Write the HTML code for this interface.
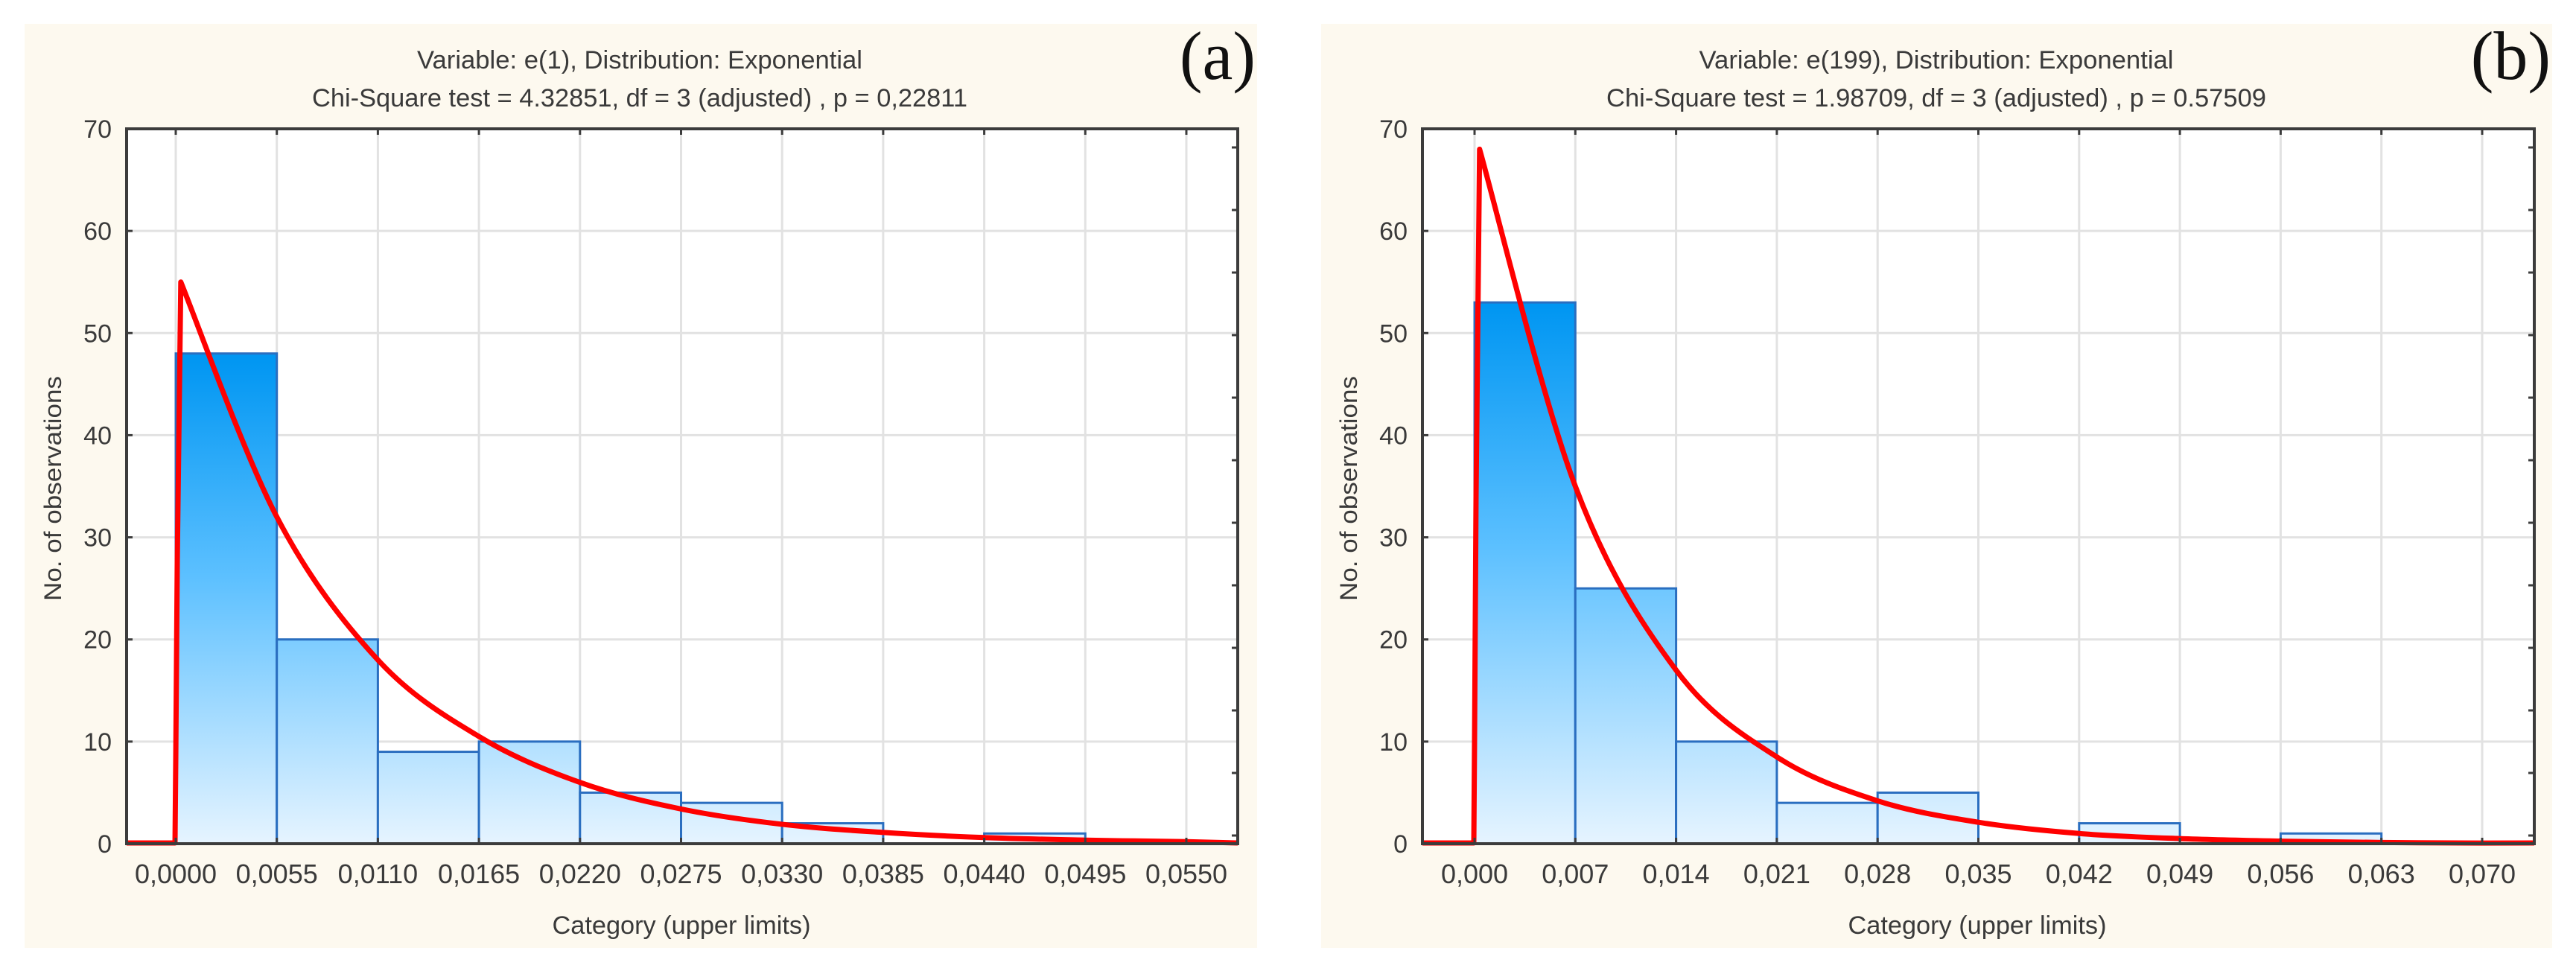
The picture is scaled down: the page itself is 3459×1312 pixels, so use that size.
<!DOCTYPE html>
<html><head><meta charset="utf-8"><style>
html,body{margin:0;padding:0;background:#fff;}
svg{display:block;}
text{font-family:"Liberation Sans Narrow","Liberation Sans",sans-serif;fill:#3a3a3a;}
</style></head><body>
<svg id="fig" width="3459" height="1312" viewBox="0 0 3459 1312">
<defs>
<linearGradient id="barGradA" gradientUnits="userSpaceOnUse" x1="0" y1="480" x2="0" y2="1133">
<stop offset="0" stop-color="#0096f2"/><stop offset="0.45" stop-color="#5cc0ff"/><stop offset="1" stop-color="#e6f4ff"/></linearGradient>
<linearGradient id="barGradB" gradientUnits="userSpaceOnUse" x1="0" y1="410" x2="0" y2="1133">
<stop offset="0" stop-color="#0096f2"/><stop offset="0.45" stop-color="#5cc0ff"/><stop offset="1" stop-color="#e6f4ff"/></linearGradient>
<clipPath id="clipA"><rect x="170" y="160" width="1492" height="976"/></clipPath>
<clipPath id="clipB"><rect x="1910" y="160" width="1493" height="976"/></clipPath>
</defs>
</svg>
<script>
// ---- Panel (a) data ----
const ticksA = ["0,0000","0,0055","0,0110","0,0165","0,0220","0,0275","0,0330","0,0385","0,0440","0,0495","0,0550"];
const countsA = [48,20,9,10,5,4,2,0,1];
const curveA = [55,32,18,10.5,6,3.4,1.9,1.1,0.6,0.35,0.2];
const binWidthA = 0.0055;
// ---- Panel (b) data ----
const ticksB = ["0,000","0,007","0,014","0,021","0,028","0,035","0,042","0,049","0,056","0,063","0,070"];
const countsB = [53,25,10,4,5,0,2,0,1];
const curveB = [68,35,17,8.5,4.2,2.1,1.0,0.5,0.25,0.12,0.06];
const binWidthB = 0.007;
const yTicks = [0,10,20,30,40,50,60,70];

const NS="http://www.w3.org/2000/svg";
const svg=document.getElementById('fig');
function mk(tag,attrs,parent){const e=document.createElementNS(NS,tag);for(const k in attrs)e.setAttribute(k,attrs[k]);(parent||svg).appendChild(e);return e;}

function panel(cfg){
  const g=mk('g',{});
  
  
  const bg=mk('rect',{x:cfg.px,y:32,width:cfg.pw,height:1241,fill:'#fdf9ef'},g);
  
  
  const L=cfg.left,R=cfg.right,T=173,B=1133;
  const plot=mk('rect',{x:L,y:T,width:R-L,height:B-T,fill:'#ffffff'},g);
  
  
  const yS=v=>B-(v/70)*(B-T);
  const xS=v=>cfg.x0+(v/cfg.bw)*cfg.step;
  yTicks.forEach(t=>{
    const l=mk('line',{x1:L,x2:R,y1:yS(t),y2:yS(t),stroke:'#e2e2e2','stroke-width':3},g);
    
    
  });
  cfg.ticks.forEach((t,i)=>{
    const x=xS(i*cfg.bw);
    const l=mk('line',{x1:x,x2:x,y1:T,y2:B,stroke:'#e2e2e2','stroke-width':3},g);
    
    
  });
  cfg.counts.forEach((c,i)=>{
    if(c<=0)return;
    const x1=xS(i*cfg.bw),x2=xS((i+1)*cfg.bw);
    const r=mk('rect',{x:x1,y:yS(c),width:x2-x1,height:B-yS(c),fill:cfg.grad,stroke:'#2a6ec0','stroke-width':3},g);
    
    
  });
  const pts=[[L,B-1],[xS(0)-1,B-1],[xS(0),yS(cfg.curve[0]*0.15)],[xS(0)+2,yS(cfg.curve[0]*0.5)]];
  const cp=cfg.curve.map((v,i)=>[xS(i*cfg.bw),yS(v)]);
  cp[0][0]=xS(cfg.bw*0.05);
  let d='M'+pts.map(p=>p.join(',')).join(' L')+' L'+cp[0].join(',');
  for(let i=0;i<cp.length-1;i++){
    const p0=cp[Math.max(0,i-1)],p1=cp[i],p2=cp[i+1],p3=cp[Math.min(cp.length-1,i+2)];
    const c1=[p1[0]+(p2[0]-p0[0])/6,p1[1]+(p2[1]-p0[1])/6];
    const c2=[p2[0]-(p3[0]-p1[0])/6,p2[1]-(p3[1]-p1[1])/6];
    d+=' C'+c1.join(',')+' '+c2.join(',')+' '+p2.join(',');
  }
  d+=' L'+R+','+(B-1);
  const path=mk('path',{d:d,fill:'none',stroke:'#ff0000','stroke-width':7,'stroke-linejoin':'round','clip-path':cfg.clip},g);
  
  
  const fr=mk('rect',{x:L,y:T,width:R-L,height:B-T,fill:'none',stroke:'#3c3c3c','stroke-width':4},g);
  
  
  yTicks.forEach(t=>{
    mk('line',{x1:L,x2:L+8,y1:yS(t),y2:yS(t),stroke:'#3c3c3c','stroke-width':3},g);
    const tx=mk('text',{x:cfg.ylabX,y:yS(t)+12,'font-size':34,'text-anchor':'end'},g);
    tx.textContent=t;
    
    
  });
  for(let y=T+25;y<B;y+=84){mk('line',{x1:R-8,x2:R,y1:y,y2:y,stroke:'#3c3c3c','stroke-width':3},g);}
  cfg.ticks.forEach((t,i)=>{
    const x=xS(i*cfg.bw);
    mk('line',{x1:x,x2:x,y1:T,y2:T+8,stroke:'#3c3c3c','stroke-width':3},g);
    mk('line',{x1:x,x2:x,y1:B-8,y2:B,stroke:'#3c3c3c','stroke-width':3},g);
    const tx=mk('text',{x:x,y:1186,'font-size':36,'text-anchor':'middle'},g);
    tx.textContent=t;
    
    
  });
  const t1=mk('text',{x:cfg.tcx,y:92,'font-size':34,'text-anchor':'middle',textLength:cfg.t1w,lengthAdjust:'spacingAndGlyphs'},g);
  t1.textContent=cfg.title1;
  
  
  const t2=mk('text',{x:cfg.tcx,y:143,'font-size':34,'text-anchor':'middle',textLength:cfg.t2w,lengthAdjust:'spacingAndGlyphs'},g);
  t2.textContent=cfg.title2;
  
  
  const xt=mk('text',{x:cfg.xtx,y:1254,'font-size':34,'text-anchor':'middle',textLength:347,lengthAdjust:'spacingAndGlyphs'},g);
  xt.textContent='Category (upper limits)';
  
  
  const yt=mk('text',{x:0,y:0,'font-size':32,'text-anchor':'middle',textLength:302,lengthAdjust:'spacingAndGlyphs',transform:`translate(${cfg.ytx},656) rotate(-90)`},g);
  yt.textContent='No. of observations';
  
  
  const lab=mk('text',{x:cfg.labX,y:106,'font-size':92,'text-anchor':'end',style:'font-family:"Liberation Serif",serif;fill:#111'},g);
  lab.textContent=cfg.label;
  
  
}

panel({id:'panel-a',px:33,pw:1655,left:170,right:1662,x0:236,step:135.7,bw:binWidthA,
  ticks:ticksA,counts:countsA,curve:curveA,grad:'url(#barGradA)',ylabX:150,clip:'url(#clipA)',
  tcx:859,t1w:598,t2w:880,xtx:915,ytx:82,labX:1686,label:'(a)',
  title1:'Variable: e(1), Distribution: Exponential',
  title2:'Chi-Square test = 4.32851, df = 3 (adjusted) , p = 0,22811'});
panel({id:'panel-b',px:1774,pw:1653,left:1910,right:3403,x0:1980,step:135.3,bw:binWidthB,
  ticks:ticksB,counts:countsB,curve:curveB,grad:'url(#barGradB)',ylabX:1890,clip:'url(#clipB)',
  tcx:2600,t1w:637,t2w:886,xtx:2655,ytx:1822,labX:3425,label:'(b)',
  title1:'Variable: e(199), Distribution: Exponential',
  title2:'Chi-Square test = 1.98709, df = 3 (adjusted) , p = 0.57509'});
</script>
</body></html>
